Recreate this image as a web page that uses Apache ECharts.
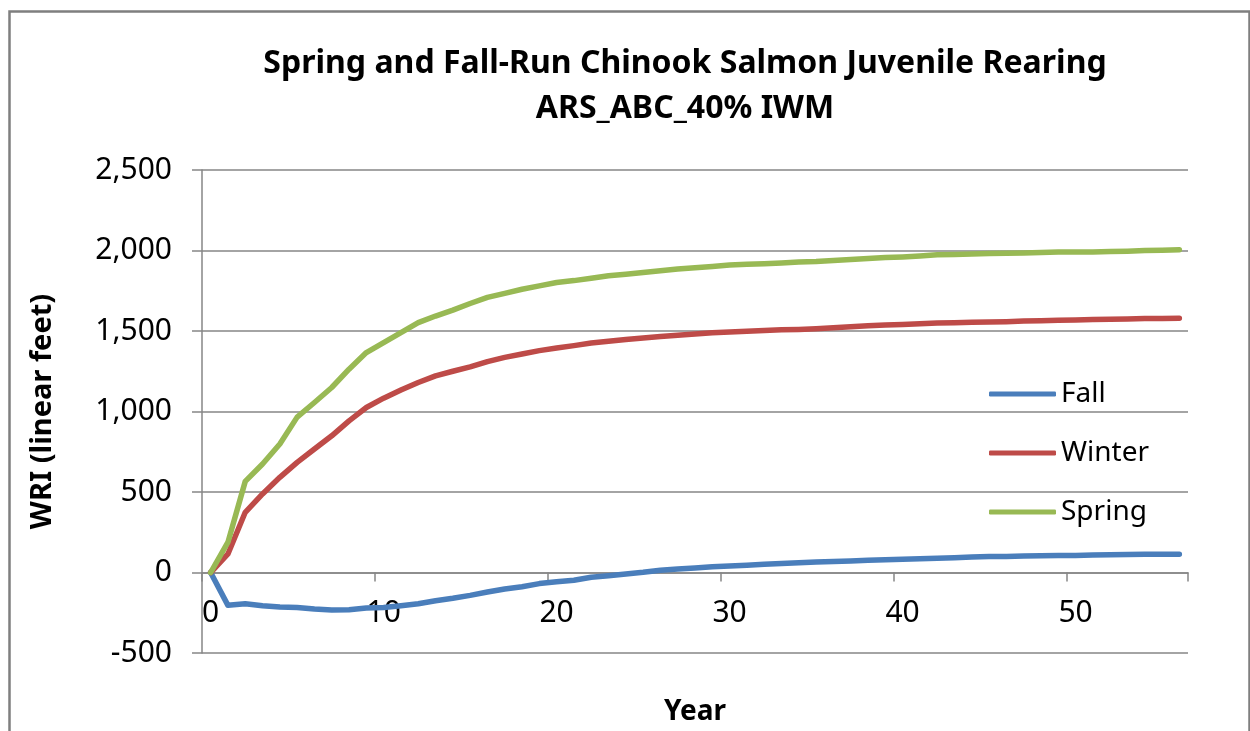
<!DOCTYPE html>
<html>
<head>
<meta charset="utf-8">
<script src="https://cdn.jsdelivr.net/npm/echarts@6/dist/echarts.min.js"></script>
<style>
html,body{margin:0;padding:0;background:#fff;}
#chart{width:1250px;height:731px;}
</style>
</head>
<body>
<div id="chart"></div>
<script>
const years = ['0','1','2','3','4','5','6','7','8','9','10','11','12','13','14','15','16','17','18','19','20','21','22','23','24','25','26','27','28','29','30','31','32','33','34','35','36','37','38','39','40','41','42','43','44','45','46','47','48','49','50','51','52','53','54','55','56'];

const fall = [0,-204,-194,-206,-215,-217,-227,-233,-231,-221,-217,-206,-194,-175,-160,-142,-121,-102,-88,-69,-58,-48,-29,-20,-9,1,14,22,28,36,41,45,51,56,60,65,68,72,76,79,82,85,89,92,96,99,100,102,104,105,106,108,111,112,113,113,113];

const winter = [0,115,374,488,591,684,767,849,942,1025,1083,1133,1180,1221,1250,1277,1310,1336,1357,1378,1394,1409,1425,1436,1447,1457,1466,1474,1482,1489,1494,1499,1503,1507,1510,1514,1520,1527,1533,1537,1541,1545,1549,1552,1554,1556,1558,1562,1564,1567,1569,1571,1573,1575,1577,1578,1579];

const spring = [0,188,566,674,798,965,1056,1149,1263,1366,1428,1490,1552,1593,1630,1671,1709,1734,1759,1780,1801,1813,1828,1843,1853,1864,1874,1885,1893,1901,1910,1914,1918,1922,1928,1931,1938,1944,1950,1956,1960,1966,1973,1975,1979,1981,1983,1985,1988,1990,1990,1991,1994,1996,2000,2002,2004];

const yTicks = {min:-500, max:2500, interval:500};
const titleText = 'Spring and Fall-Run Chinook Salmon Juvenile Rearing\nARS_ABC_40% IWM';

const FONT = 'Noto Sans';
const GRAY = '#868686';

const chart = echarts.init(document.getElementById('chart'), null, {renderer:'canvas'});
chart.setOption({
  animation:false,
  backgroundColor:'#ffffff',
  graphic:[{
    type:'rect', left:7, top:9, silent:true,
    shape:{x:0,y:0,width:1240,height:760},
    style:{fill:'none', stroke:'#7f7f7f', lineWidth:2.5}
  }],
  title:{
    text:titleText,
    left:680, top:36, textAlign:'center',
    textStyle:{fontFamily:FONT, fontWeight:'bold', fontSize:32, lineHeight:45, color:'#000'}
  },
  legend:{
    orient:'vertical', left:989, top:380, padding:0,
    icon:'roundRect',
    itemWidth:67, itemHeight:5, itemGap:31,
    textStyle:{fontFamily:FONT, fontSize:28, color:'#000'},
    data:['Fall','Winter','Spring']
  },
  grid:{left:202, right:62, top:170, bottom:78, containLabel:false, outerBoundsMode:'none'},
  xAxis:{
    type:'category', data:years, boundaryGap:true,
    position:'bottom', offset:-80.5,
    name:'Year', nameLocation:'middle', nameGap:126,
    nameTextStyle:{fontFamily:FONT, fontWeight:'bold', fontSize:28, color:'#000'},
    axisLine:{onZero:false, lineStyle:{color:GRAY, width:1.5}},
    axisTick:{show:true, interval:9, length:9, inside:false, lineStyle:{color:GRAY, width:1.5}},
    axisLabel:{interval:9, margin:26, fontFamily:FONT, fontSize:30, color:'#000'},
    splitLine:{show:false}
  },
  yAxis:{
    type:'value', min:yTicks.min, max:yTicks.max, interval:yTicks.interval,
    name:'WRI (linear feet)', nameLocation:'middle', nameGap:145,
    nameTextStyle:{fontFamily:FONT, fontWeight:'bold', fontSize:29, color:'#000'},
    axisLine:{show:true, lineStyle:{color:GRAY, width:1.5}},
    axisTick:{show:true, length:10, lineStyle:{color:GRAY, width:1.5}},
    axisLabel:{margin:30, fontFamily:FONT, fontSize:30, color:'#000',
      formatter:function(v){return v.toLocaleString('en-US');}},
    splitLine:{show:true, lineStyle:{color:GRAY, width:1.5}}
  },
  series:[
    {name:'Fall', type:'line', data:fall, symbol:'none', lineStyle:{color:'#4a7ebb', width:5.5, cap:'round', join:'round'}, itemStyle:{color:'#4a7ebb'}},
    {name:'Winter', type:'line', data:winter, symbol:'none', lineStyle:{color:'#be4b48', width:5.5, cap:'round', join:'round'}, itemStyle:{color:'#be4b48'}},
    {name:'Spring', type:'line', data:spring, symbol:'none', lineStyle:{color:'#98b954', width:5.5, cap:'round', join:'round'}, itemStyle:{color:'#98b954'}}
  ]
});
</script>
</body>
</html>
